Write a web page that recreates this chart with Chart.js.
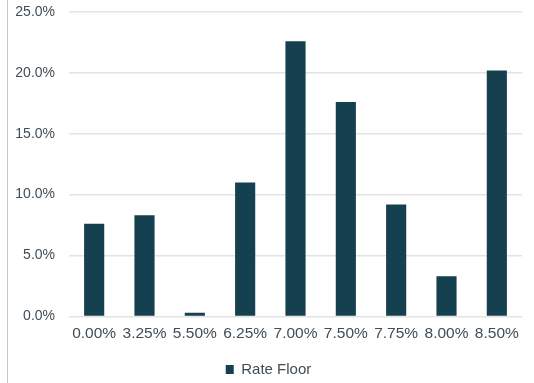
<!DOCTYPE html>
<html>
<head>
<meta charset="utf-8">
<script src="https://cdn.jsdelivr.net/npm/chart.js@4/dist/chart.umd.min.js"></script>
<style>
  html, body { margin: 0; padding: 0; background: #fff; }
  #wrap { position: relative; width: 534px; height: 383px; }
  #wrap::before { content: ""; position: absolute; left: 7px; top: 0; bottom: 0; width: 1px; background: #b9cdd3; }
</style>
</head>
<body>
<div id="wrap"><canvas id="c" width="534" height="383"></canvas></div>
<script>
const categories = ['0.00%', '3.25%', '5.50%', '6.25%', '7.00%', '7.50%', '7.75%', '8.00%', '8.50%'];
const rateFloor = [7.6, 8.3, 0.3, 11.0, 22.6, 17.6, 9.2, 3.3, 20.2];
const yTicks = [0, 5, 10, 15, 20, 25];

const textColor = '#3f4d58';
const family = 'Liberation Sans, Arial, sans-serif';

new Chart(document.getElementById('c'), {
  type: 'bar',
  data: {
    labels: categories,
    datasets: [{
      label: 'Rate Floor',
      data: rateFloor,
      backgroundColor: '#15404f',
      borderWidth: 0,
      categoryPercentage: 1,
      barPercentage: 0.4
    }]
  },
  options: {
    responsive: false,
    animation: false,
    layout: { padding: { top: 12, right: 12, left: 15, bottom: -4 } },
    plugins: {
      tooltip: { enabled: false },
      legend: {
        position: 'bottom',
        labels: {
          color: textColor,
          font: { family, size: 15 },
          boxWidth: 8,
          boxHeight: 9,
          padding: 11
        }
      }
    },
    scales: {
      x: {
        grid: { display: false, drawTicks: false },
        border: { display: false },
        ticks: { color: textColor, font: { family, size: 15.5 }, padding: 8, maxRotation: 0 }
      },
      y: {
        min: 0,
        max: 25,
        afterFit: s => { s.width = 54; },
        afterBuildTicks: s => { s.ticks = yTicks.map(v => ({ value: v })); },
        grid: { color: '#e3e3e3', lineWidth: 1.5, drawTicks: true, tickLength: 14, tickColor: 'rgba(0,0,0,0)' },
        border: { display: false },
        ticks: {
          color: textColor,
          font: { family, size: 14 },
          padding: 0,
          callback: v => v.toFixed(1) + '%'
        }
      }
    }
  }
});
</script>
</body>
</html>
